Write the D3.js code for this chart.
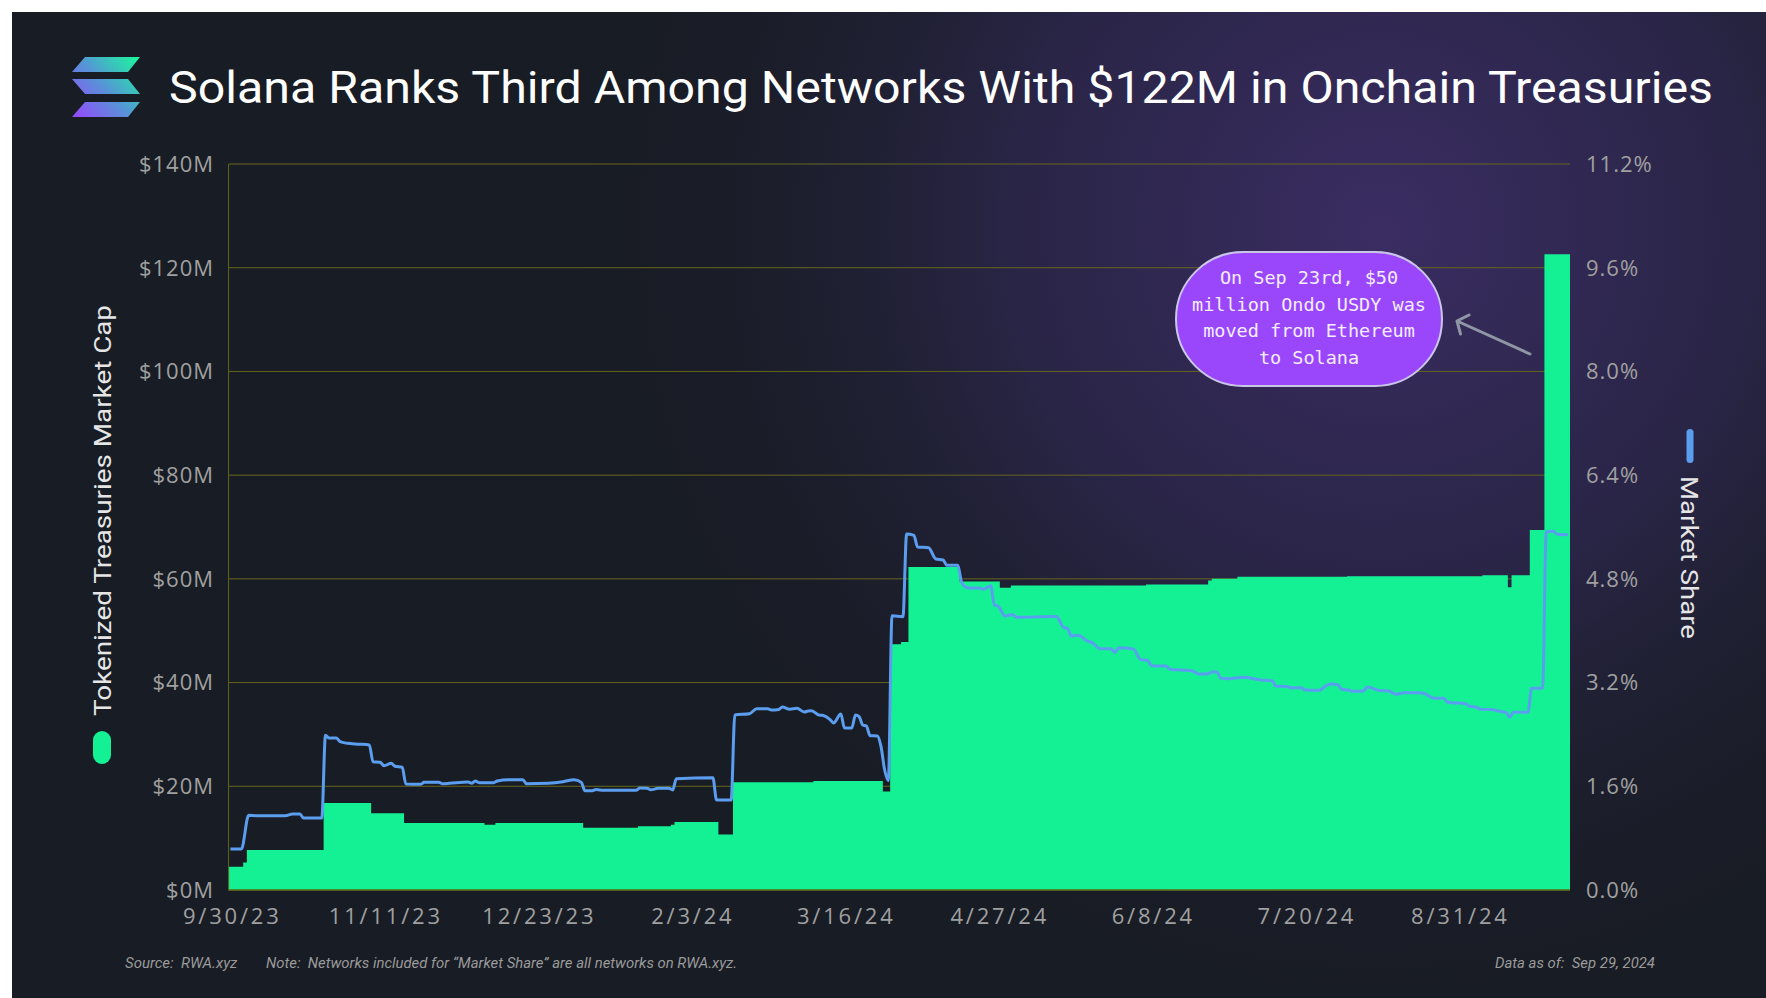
<!DOCTYPE html>
<html>
<head>
<meta charset="utf-8">
<script src="https://cdn.jsdelivr.net/npm/d3@7"></script>
<style>
  html, body { margin: 0; padding: 0; background: #fff; }
  svg { display: block; }
  text { white-space: pre; }
</style>
</head>
<body>
<svg id="chart" width="1766" height="998"></svg>
<script>
// Tokenized treasuries market cap on Solana ($M), step changes by day
const capSteps = [
  ["2023-09-29", 4.5], ["2023-10-03", 5.3], ["2023-10-04", 7.7], ["2023-10-25", 16.8],
  ["2023-11-07", 14.8], ["2023-11-16", 12.9], ["2023-12-08", 12.6], ["2023-12-11", 12.9],
  ["2024-01-04", 12.0], ["2024-01-19", 12.3], ["2024-01-28", 12.6], ["2024-01-29", 13.1],
  ["2024-02-10", 10.7], ["2024-02-14", 20.8], ["2024-03-07", 21.0], ["2024-03-26", 19.0],
  ["2024-03-28", 47.4], ["2024-03-31", 47.8], ["2024-04-02", 62.3], ["2024-04-16", 59.5],
  ["2024-04-27", 58.3], ["2024-04-30", 58.7], ["2024-06-06", 58.9], ["2024-06-23", 59.7],
  ["2024-06-24", 60.0], ["2024-07-01", 60.4], ["2024-07-31", 60.5], ["2024-09-06", 60.7],
  ["2024-09-13", 58.4], ["2024-09-14", 60.7], ["2024-09-19", 69.4], ["2024-09-23", 122.6]
];
const capEnd = "2024-09-30";

// Solana share of all onchain treasuries (%)
const shareSeries = [
  ["2023-09-29", 0.633], ["2023-10-02", 0.633], ["2023-10-04", 1.152], ["2023-10-06", 1.147],
  ["2023-10-14", 1.147], ["2023-10-16", 1.172], ["2023-10-18", 1.172], ["2023-10-19", 1.111],
  ["2023-10-24", 1.111], ["2023-10-25", 2.387], ["2023-10-26", 2.345], ["2023-10-28", 2.345],
  ["2023-10-29", 2.288], ["2023-10-31", 2.263], ["2023-11-03", 2.25], ["2023-11-06", 2.237],
  ["2023-11-07", 1.98], ["2023-11-09", 1.97], ["2023-11-10", 1.918], ["2023-11-12", 1.954],
  ["2023-11-13", 1.908], ["2023-11-15", 1.893], ["2023-11-16", 1.635], ["2023-11-20", 1.63],
  ["2023-11-21", 1.661], ["2023-11-25", 1.661], ["2023-11-26", 1.64], ["2023-11-28", 1.647],
  ["2023-12-03", 1.666], ["2023-12-04", 1.646], ["2023-12-05", 1.682], ["2023-12-06", 1.656],
  ["2023-12-10", 1.656], ["2023-12-11", 1.682], ["2023-12-14", 1.702], ["2023-12-18", 1.702],
  ["2023-12-19", 1.64], ["2023-12-25", 1.647], ["2023-12-29", 1.671], ["2024-01-01", 1.702],
  ["2024-01-03", 1.66], ["2024-01-04", 1.532], ["2024-01-06", 1.53], ["2024-01-07", 1.55],
  ["2024-01-09", 1.538], ["2024-01-18", 1.538], ["2024-01-19", 1.573], ["2024-01-21", 1.57],
  ["2024-01-22", 1.545], ["2024-01-24", 1.568], ["2024-01-27", 1.57], ["2024-01-28", 1.543],
  ["2024-01-29", 1.717], ["2024-02-08", 1.733], ["2024-02-09", 1.388], ["2024-02-13", 1.388],
  ["2024-02-14", 2.70], ["2024-02-18", 2.72], ["2024-02-20", 2.797], ["2024-02-23", 2.797],
  ["2024-02-24", 2.777], ["2024-02-26", 2.785], ["2024-02-27", 2.823], ["2024-02-29", 2.79],
  ["2024-03-02", 2.803], ["2024-03-04", 2.746], ["2024-03-05", 2.761], ["2024-03-06", 2.766],
  ["2024-03-08", 2.70], ["2024-03-09", 2.695], ["2024-03-11", 2.633], ["2024-03-12", 2.576],
  ["2024-03-14", 2.715], ["2024-03-15", 2.499], ["2024-03-17", 2.499], ["2024-03-18", 2.70],
  ["2024-03-19", 2.674], ["2024-03-20", 2.546], ["2024-03-21", 2.53], ["2024-03-22", 2.381],
  ["2024-03-24", 2.376], ["2024-03-25", 2.211], ["2024-03-26", 1.851], ["2024-03-27", 1.687],
  ["2024-03-28", 4.232], ["2024-03-31", 4.217], ["2024-04-01", 5.492], ["2024-04-03", 5.472],
  ["2024-04-04", 5.292], ["2024-04-07", 5.28], ["2024-04-09", 5.106], ["2024-04-11", 5.09],
  ["2024-04-12", 5.009], ["2024-04-15", 5.009], ["2024-04-16", 4.757], ["2024-04-17", 4.679],
  ["2024-04-18", 4.66], ["2024-04-21", 4.66], ["2024-04-22", 4.639], ["2024-04-24", 4.695],
  ["2024-04-25", 4.397], ["2024-04-26", 4.38], ["2024-04-28", 4.227], ["2024-04-30", 4.25],
  ["2024-05-01", 4.207], ["2024-05-12", 4.22], ["2024-05-14", 4.047], ["2024-05-15", 4.04],
  ["2024-05-16", 3.919], ["2024-05-18", 3.93], ["2024-05-20", 3.857], ["2024-05-22", 3.806],
  ["2024-05-24", 3.723], ["2024-05-27", 3.72], ["2024-05-28", 3.661], ["2024-05-29", 3.738],
  ["2024-06-02", 3.72], ["2024-06-04", 3.559], ["2024-06-06", 3.54], ["2024-06-07", 3.46],
  ["2024-06-11", 3.455], ["2024-06-12", 3.405], ["2024-06-18", 3.384], ["2024-06-20", 3.332],
  ["2024-06-22", 3.332], ["2024-06-24", 3.368], ["2024-06-25", 3.36], ["2024-06-26", 3.266],
  ["2024-06-28", 3.26], ["2024-07-02", 3.281], ["2024-07-07", 3.24], ["2024-07-10", 3.23],
  ["2024-07-11", 3.147], ["2024-07-14", 3.14], ["2024-07-15", 3.121], ["2024-07-18", 3.121],
  ["2024-07-19", 3.085], ["2024-07-23", 3.08], ["2024-07-24", 3.121], ["2024-07-26", 3.178],
  ["2024-07-28", 3.168], ["2024-07-29", 3.096], ["2024-07-31", 3.085], ["2024-08-01", 3.065],
  ["2024-08-04", 3.07], ["2024-08-05", 3.132], ["2024-08-06", 3.122], ["2024-08-08", 3.08],
  ["2024-08-11", 3.07], ["2024-08-13", 3.019], ["2024-08-15", 3.044], ["2024-08-19", 3.044],
  ["2024-08-21", 3.024], ["2024-08-23", 2.962], ["2024-08-26", 2.957], ["2024-08-27", 2.896],
  ["2024-09-01", 2.874], ["2024-09-02", 2.834], ["2024-09-04", 2.82], ["2024-09-05", 2.788],
  ["2024-09-08", 2.785], ["2024-09-10", 2.761], ["2024-09-12", 2.741], ["2024-09-13", 2.664],
  ["2024-09-14", 2.741], ["2024-09-18", 2.741], ["2024-09-19", 3.111], ["2024-09-22", 3.111],
  ["2024-09-23", 5.528], ["2024-09-25", 5.533], ["2024-09-26", 5.487], ["2024-09-29", 5.482]
];

const capTicks = [0, 20, 40, 60, 80, 100, 120, 140];
const shareTicks = [0, 1.6, 3.2, 4.8, 6.4, 8.0, 9.6, 11.2];
const dateTicks = ["9/30/23", "11/11/23", "12/23/23", "2/3/24", "3/16/24", "4/27/24", "6/8/24", "7/20/24", "8/31/24"];

const titleText = "Solana Ranks Third Among Networks With $122M in Onchain Treasuries";
const noteLines = ["On Sep 23rd, $50", "million Ondo USDY was", "moved from Ethereum", "to Solana"];

// ---- layout
const W = 1766, H = 998;
const plot = { left: 228.6, right: 1570, top: 164, bottom: 890 };
const green = "#14f195", blue = "#5b9ef0", grid = "#66661c", tickColor = "#a0a0a0";

const parseDay = d3.utcParse("%Y-%m-%d");
const parseTick = d3.utcParse("%m/%d/%y");

const cap = capSteps.map(([d, v]) => ({ date: parseDay(d), v }));
cap.push({ date: parseDay(capEnd), v: capSteps[capSteps.length - 1][1] });
const share = shareSeries.map(([d, v]) => ({ date: parseDay(d), v }));

const x = d3.scaleUtc()
  .domain([parseDay("2023-09-29"), parseDay(capEnd)])
  .range([plot.left, plot.right]);
const y = d3.scaleLinear().domain([0, 140]).range([plot.bottom, plot.top]);
const yPct = d3.scaleLinear().domain([0, 11.2]).range([plot.bottom, plot.top]);
const halfDay = (x(parseDay("2023-09-30")) - x(parseDay("2023-09-29"))) / 2;

const svg = d3.select("#chart");
const defs = svg.append("defs");

// background panel with purple glow
const glow = defs.append("radialGradient").attr("id", "glow")
  .attr("gradientUnits", "userSpaceOnUse")
  .attr("cx", 1380).attr("cy", 230).attr("r", 820);
glow.append("stop").attr("offset", 0).attr("stop-color", "#3b2d63").attr("stop-opacity", 1);
glow.append("stop").attr("offset", 0.45).attr("stop-color", "#2f2852").attr("stop-opacity", 0.75);
glow.append("stop").attr("offset", 1).attr("stop-color", "#181c24").attr("stop-opacity", 0);

svg.append("rect").attr("x", 12).attr("y", 12).attr("width", W - 12).attr("height", H - 12).attr("fill", "#181c24");
svg.append("rect").attr("x", 12).attr("y", 12).attr("width", W - 12).attr("height", H - 12).attr("fill", "url(#glow)");

// logo
const logoGrad = defs.append("linearGradient").attr("id", "logoGrad")
  .attr("gradientUnits", "userSpaceOnUse")
  .attr("x1", 72).attr("y1", 117).attr("x2", 140).attr("y2", 57);
logoGrad.append("stop").attr("offset", 0).attr("stop-color", "#9945ff");
logoGrad.append("stop").attr("offset", 0.5).attr("stop-color", "#5497d5");
logoGrad.append("stop").attr("offset", 1).attr("stop-color", "#19fb9b");
const logoBars = [
  [[85, 57], [140, 57], [128, 72], [72, 72]],
  [[72, 79], [128, 79], [140, 94], [85, 94]],
  [[85, 102], [140, 102], [128, 117], [72, 117]]
];
svg.append("g").selectAll("path").data(logoBars).join("path")
  .attr("d", d => "M" + d.join("L") + "Z")
  .attr("fill", "url(#logoGrad)");

// title
svg.append("text")
  .attr("x", 169).attr("y", 103)
  .attr("textLength", 1544).attr("lengthAdjust", "spacingAndGlyphs")
  .attr("font-family", "Roboto").attr("font-size", 45).attr("fill", "#ffffff")
  .text(titleText);

// gridlines
svg.append("g").selectAll("line").data(capTicks).join("line")
  .attr("x1", plot.left).attr("x2", plot.right)
  .attr("y1", d => y(d)).attr("y2", d => y(d))
  .attr("stroke", grid).attr("stroke-width", 1);

// market cap area
const area = d3.area()
  .x(d => x(d.date))
  .y0(y(0))
  .y1(d => y(d.v))
  .curve(d3.curveStepAfter);
svg.append("path").datum(cap).attr("d", area).attr("fill", green);

// market share line
const line = d3.line()
  .x(d => x(d.date) + halfDay)
  .y(d => yPct(d.v))
  .curve(d3.curveMonotoneX);
svg.append("path").datum(share)
  .attr("d", line)
  .attr("fill", "none").attr("stroke", blue)
  .attr("stroke-width", 3).attr("stroke-linejoin", "round");

// axis lines
svg.append("line").attr("x1", plot.left).attr("x2", plot.left).attr("y1", plot.top).attr("y2", plot.bottom)
  .attr("stroke", grid);
svg.append("line").attr("x1", plot.left).attr("x2", plot.right).attr("y1", plot.bottom).attr("y2", plot.bottom)
  .attr("stroke", "#5c6a14").attr("stroke-width", 1.5);

// tick labels
const tickFont = "'Open Sans', sans-serif";
svg.append("g").selectAll("text").data(capTicks).join("text")
  .attr("x", 214).attr("y", d => y(d)).attr("dy", "0.36em")
  .attr("text-anchor", "end")
  .attr("font-family", tickFont).attr("font-size", 22).attr("letter-spacing", 1)
  .attr("fill", tickColor)
  .text(d => `$${d}M`);

svg.append("g").selectAll("text").data(shareTicks).join("text")
  .attr("x", 1586).attr("y", d => yPct(d)).attr("dy", "0.36em")
  .attr("font-family", tickFont).attr("font-size", 22).attr("letter-spacing", 1)
  .attr("fill", tickColor)
  .text(d => d.toFixed(1) + "%");

svg.append("g").selectAll("text").data(dateTicks).join("text")
  .attr("x", d => x(parseTick(d))).attr("y", 924)
  .attr("text-anchor", "middle")
  .attr("font-family", tickFont).attr("font-size", 22).attr("letter-spacing", 2.8)
  .attr("fill", tickColor)
  .text(d => d);

// axis titles and legend keys
svg.append("rect").attr("x", 93).attr("y", 731).attr("width", 18).attr("height", 33).attr("rx", 9)
  .attr("fill", green);
svg.append("text")
  .attr("transform", "translate(111,716) rotate(-90)")
  .attr("textLength", 411).attr("lengthAdjust", "spacingAndGlyphs")
  .attr("font-family", "Roboto").attr("font-size", 24.5).attr("fill", "#e6e6e6")
  .text("Tokenized Treasuries Market Cap");

svg.append("rect").attr("x", 1686.5).attr("y", 429).attr("width", 7).attr("height", 34).attr("rx", 3.5)
  .attr("fill", blue);
svg.append("text")
  .attr("transform", "translate(1681,476) rotate(90)")
  .attr("textLength", 163).attr("lengthAdjust", "spacingAndGlyphs")
  .attr("font-family", "Roboto").attr("font-size", 24.5).attr("fill", "#e6e6e6")
  .text("Market Share");

// annotation
svg.append("rect")
  .attr("x", 1176).attr("y", 252).attr("width", 266).attr("height", 134).attr("rx", 67)
  .attr("fill", "#9a47fc").attr("stroke", "#cac6e8").attr("stroke-width", 2);
svg.append("g").selectAll("text").data(noteLines).join("text")
  .attr("x", 1309).attr("y", (d, i) => 284 + i * 26.5)
  .attr("text-anchor", "middle")
  .attr("font-family", "'DejaVu Sans Mono', monospace").attr("font-size", 18.5)
  .attr("fill", "#f4eeff")
  .text(d => d);

svg.append("path")
  .attr("d", "M1530,354L1457,321M1460.5,334L1457,321L1469,315")
  .attr("fill", "none").attr("stroke", "#8f97a4").attr("stroke-width", 3)
  .attr("stroke-linecap", "round").attr("stroke-linejoin", "round");

// footnotes
const foot = svg.append("g")
  .attr("font-family", "Roboto").attr("font-style", "italic").attr("font-size", 15)
  .attr("fill", "#9a9a9a");
foot.append("text").attr("x", 125).attr("y", 968).text("Source:  RWA.xyz");
foot.append("text").attr("x", 266).attr("y", 968)
  .attr("textLength", 471).attr("lengthAdjust", "spacingAndGlyphs")
  .text("Note:  Networks included for \u201cMarket Share\u201d are all networks on RWA.xyz.");
foot.append("text").attr("x", 1495).attr("y", 968)
  .attr("textLength", 160).attr("lengthAdjust", "spacingAndGlyphs")
  .text("Data as of:  Sep 29, 2024");
</script>
</body>
</html>
